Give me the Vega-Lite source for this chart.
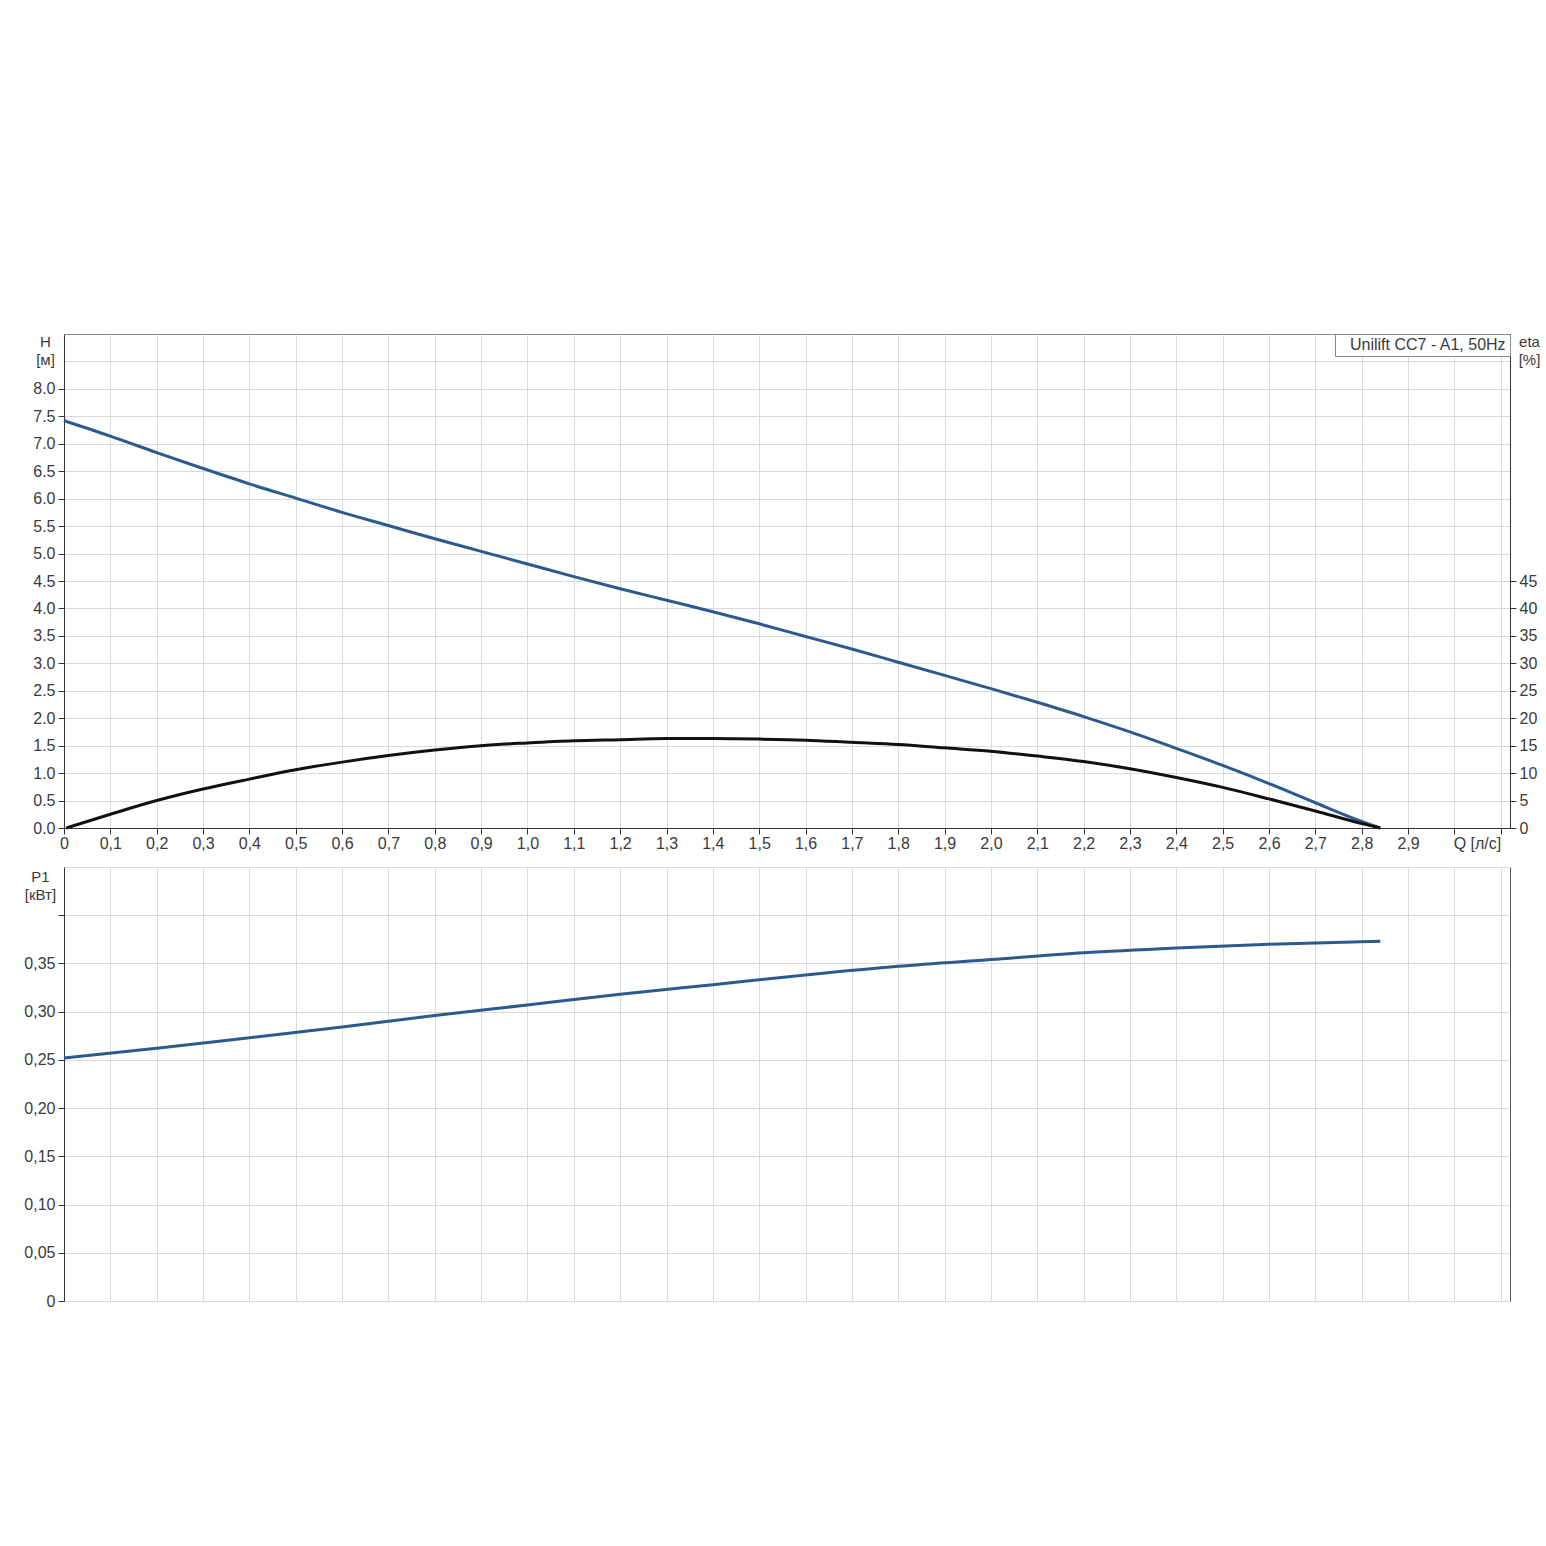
{
  "$schema": "https://vega.github.io/schema/vega-lite/v6.json",
  "background": "white",
  "padding": {"left": 23, "top": 333, "right": 6, "bottom": 0},
  "spacing": 6,
  "config": {
    "font": "Liberation Sans",
    "view": {"stroke": "#888", "strokeWidth": 1},
    "axis": {
      "labelFont": "Liberation Sans", "labelFontSize": 16, "labelColor": "#3a3a3a",
      "titleFont": "Liberation Sans", "titleFontSize": 15, "titleFontWeight": "normal", "titleColor": "#3a3a3a",
      "gridColor": "#d9d9e0", "gridWidth": 1, "domainColor": "#333", "tickColor": "#333", "tickSize": 6,
      "labelOverlap": false, "labelFlush": false, "labelBound": false
    }
  },
  "datasets": {
    "H": [
      {"Q": 0, "H": 7.42}, {"Q": 0.1, "H": 7.14}, {"Q": 0.2, "H": 6.84}, {"Q": 0.3, "H": 6.55},
      {"Q": 0.4, "H": 6.27}, {"Q": 0.5, "H": 6.01}, {"Q": 0.6, "H": 5.75}, {"Q": 0.7, "H": 5.51},
      {"Q": 0.8, "H": 5.27}, {"Q": 0.9, "H": 5.04}, {"Q": 1.0, "H": 4.81}, {"Q": 1.1, "H": 4.58},
      {"Q": 1.2, "H": 4.36}, {"Q": 1.3, "H": 4.15}, {"Q": 1.4, "H": 3.94}, {"Q": 1.5, "H": 3.72},
      {"Q": 1.6, "H": 3.49}, {"Q": 1.7, "H": 3.26}, {"Q": 1.8, "H": 3.02}, {"Q": 1.9, "H": 2.78},
      {"Q": 2.0, "H": 2.54}, {"Q": 2.1, "H": 2.29}, {"Q": 2.2, "H": 2.03}, {"Q": 2.3, "H": 1.75},
      {"Q": 2.4, "H": 1.45}, {"Q": 2.5, "H": 1.14}, {"Q": 2.6, "H": 0.81}, {"Q": 2.7, "H": 0.46},
      {"Q": 2.8, "H": 0.12}, {"Q": 2.84, "H": 0}
    ],
    "eta": [
      {"Q": 0.005, "eta": 0}, {"Q": 0.1, "eta": 2.5}, {"Q": 0.2, "eta": 5.0}, {"Q": 0.3, "eta": 7.1},
      {"Q": 0.4, "eta": 8.9}, {"Q": 0.5, "eta": 10.6}, {"Q": 0.6, "eta": 12.0}, {"Q": 0.7, "eta": 13.2},
      {"Q": 0.8, "eta": 14.2}, {"Q": 0.9, "eta": 15.0}, {"Q": 1.0, "eta": 15.5}, {"Q": 1.1, "eta": 15.9},
      {"Q": 1.2, "eta": 16.1}, {"Q": 1.3, "eta": 16.3}, {"Q": 1.4, "eta": 16.3}, {"Q": 1.5, "eta": 16.2},
      {"Q": 1.6, "eta": 16.0}, {"Q": 1.7, "eta": 15.6}, {"Q": 1.8, "eta": 15.2}, {"Q": 1.9, "eta": 14.6},
      {"Q": 2.0, "eta": 14.0}, {"Q": 2.1, "eta": 13.1}, {"Q": 2.2, "eta": 12.1}, {"Q": 2.3, "eta": 10.8},
      {"Q": 2.4, "eta": 9.2}, {"Q": 2.5, "eta": 7.4}, {"Q": 2.6, "eta": 5.3}, {"Q": 2.7, "eta": 3.1},
      {"Q": 2.8, "eta": 0.8}, {"Q": 2.84, "eta": 0}
    ],
    "P1": [
      {"Q": 0, "P1": 0.252}, {"Q": 0.2, "P1": 0.262}, {"Q": 0.4, "P1": 0.273}, {"Q": 0.6, "P1": 0.284},
      {"Q": 0.8, "P1": 0.296}, {"Q": 1.0, "P1": 0.307}, {"Q": 1.2, "P1": 0.318}, {"Q": 1.4, "P1": 0.328},
      {"Q": 1.6, "P1": 0.338}, {"Q": 1.8, "P1": 0.347}, {"Q": 2.0, "P1": 0.354}, {"Q": 2.2, "P1": 0.361},
      {"Q": 2.4, "P1": 0.366}, {"Q": 2.6, "P1": 0.370}, {"Q": 2.84, "P1": 0.373}
    ]
  },
  "resolve": {"scale": {"color": "independent"}, "legend": {"color": "independent"}},
  "vconcat": [
    {
      "width": 1446,
      "height": 494,
      "layer": [
        {
          "data": {"name": "H"},
          "mark": {"type": "line", "strokeWidth": 3, "interpolate": "monotone"},
          "encoding": {
            "x": {
              "field": "Q", "type": "quantitative",
              "scale": {"domain": [0, 3.12], "nice": false, "zero": false},
              "axis": {
                "title": null,
                "values": [0, 0.1, 0.2, 0.3, 0.4, 0.5, 0.6, 0.7, 0.8, 0.9, 1.0, 1.1, 1.2, 1.3, 1.4, 1.5, 1.6, 1.7, 1.8, 1.9, 2.0, 2.1, 2.2, 2.3, 2.4, 2.5, 2.6, 2.7, 2.8, 2.9, 3.0, 3.1],
                "labelExpr": "datum.value == 0 ? '0' : datum.value > 3.05 ? 'Q [л/с]' : datum.value > 2.95 ? '' : replace(format(datum.value, '.1f'), '.', ',')",
                "labelAlign": {"condition": {"test": "datum.value > 3.05", "value": "right"}, "value": "center"},
                "labelPadding": 1
              }
            },
            "y": {
              "field": "H", "type": "quantitative",
              "scale": {"domain": [0, 9], "nice": false},
              "axis": {
                "values": [0, 0.5, 1, 1.5, 2, 2.5, 3, 3.5, 4, 4.5, 5, 5.5, 6, 6.5, 7, 7.5, 8, 8.5],
                "labelExpr": "datum.value > 8.01 ? '' : format(datum.value, '.1f')",
                "tickColor": {"condition": {"test": "datum.value > 8.01", "value": "transparent"}, "value": "#333"},
                "title": ["H", "[м]"],
                "titleAngle": 0, "titleAlign": "center", "titleBaseline": "top",
                "titleX": -19, "titleY": 0, "titleLineHeight": 18,
                "labelPadding": 3
              }
            },
            "color": {
              "datum": "Unilift CC7 - A1, 50Hz",
              "scale": {"range": ["#2d5a8e"]},
              "legend": {
                "title": null, "orient": "top-right", "offset": 0, "padding": 3,
                "strokeColor": "#888", "fillColor": "white",
                "symbolOpacity": 0, "symbolSize": 0, "symbolStrokeWidth": 0,
                "labelFontSize": 16, "labelColor": "#3a3a3a", "labelFont": "Liberation Sans", "labelOffset": -4
              }
            }
          }
        },
        {
          "data": {"name": "eta"},
          "mark": {"type": "line", "strokeWidth": 3, "color": "#111", "interpolate": "monotone"},
          "encoding": {
            "x": {"field": "Q", "type": "quantitative"},
            "y": {
              "field": "eta", "type": "quantitative",
              "scale": {"domain": [0, 90], "nice": false},
              "axis": {
                "orient": "right", "grid": false,
                "values": [0, 5, 10, 15, 20, 25, 30, 35, 40, 45],
                "format": "d",
                "title": ["eta", "[%]"],
                "titleAngle": 0, "titleAlign": "center", "titleBaseline": "top",
                "titleX": 19, "titleY": 0, "titleLineHeight": 18,
                "labelPadding": 3
              }
            }
          }
        }
      ],
      "resolve": {"scale": {"y": "independent"}}
    },
    {
      "width": 1446,
      "height": 434,
      "view": {"stroke": "#555"},
      "data": {"name": "P1"},
      "mark": {"type": "line", "strokeWidth": 3, "color": "#2d5a8e", "interpolate": "monotone"},
      "encoding": {
        "x": {
          "field": "Q", "type": "quantitative",
          "scale": {"domain": [0, 3.12], "nice": false, "zero": false},
          "axis": {
            "title": null, "labels": false, "ticks": false, "domain": false, "grid": true,
            "values": [0, 0.1, 0.2, 0.3, 0.4, 0.5, 0.6, 0.7, 0.8, 0.9, 1.0, 1.1, 1.2, 1.3, 1.4, 1.5, 1.6, 1.7, 1.8, 1.9, 2.0, 2.1, 2.2, 2.3, 2.4, 2.5, 2.6, 2.7, 2.8, 2.9, 3.0, 3.1]
          }
        },
        "y": {
          "field": "P1", "type": "quantitative",
          "scale": {"domain": [0, 0.45], "nice": false},
          "axis": {
            "values": [0, 0.05, 0.1, 0.15, 0.2, 0.25, 0.3, 0.35, 0.4, 0.45],
            "labelExpr": "datum.value > 0.375 ? '' : datum.value == 0 ? '0' : replace(format(datum.value, '.2f'), '.', ',')",
            "tickColor": {"condition": {"test": "datum.value > 0.425", "value": "transparent"}, "value": "#333"},
            "title": ["P1", "[кВт]"],
            "titleAngle": 0, "titleAlign": "center", "titleBaseline": "top",
            "titleX": -24, "titleY": 2, "titleLineHeight": 18,
            "labelPadding": 3
          }
        }
      }
    }
  ]
}
